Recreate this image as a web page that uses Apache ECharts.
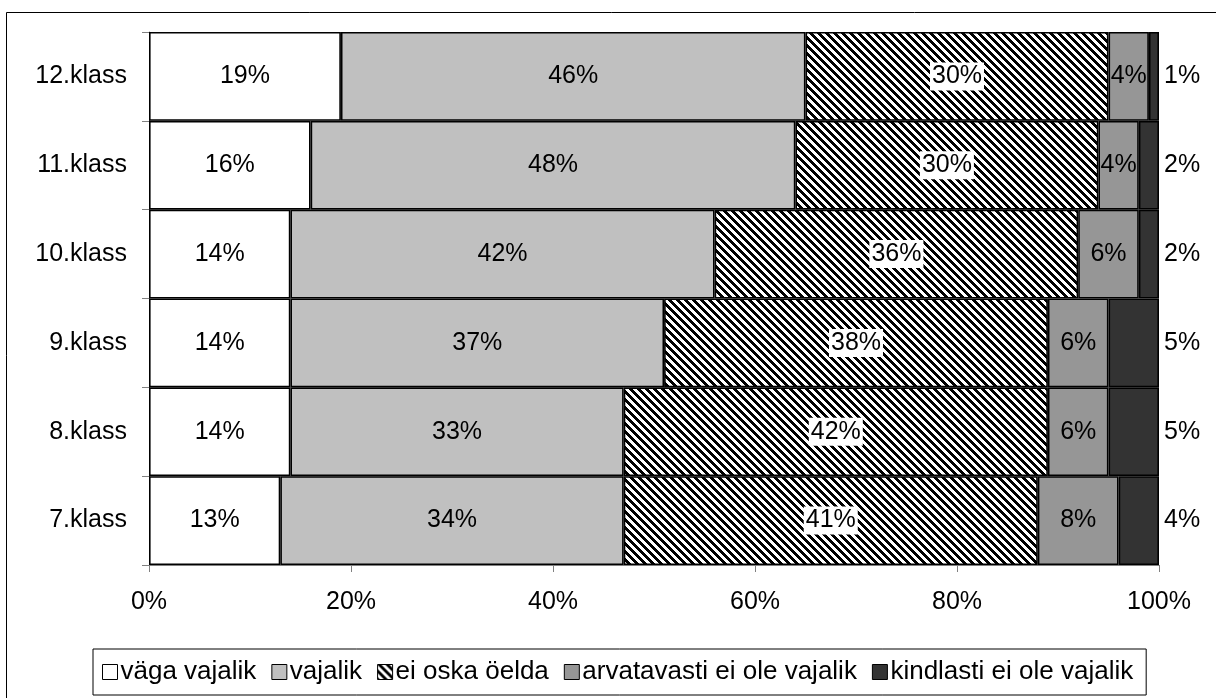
<!DOCTYPE html>
<html>
<head>
<meta charset="utf-8">
<script src="https://cdn.jsdelivr.net/npm/echarts@6/dist/echarts.min.js"></script>
<style>
  html, body { margin: 0; padding: 0; background: #fff; }
  #chart { width: 1216px; height: 698px; }
</style>
</head>
<body>
<div id="chart"></div>
<script>
// Categories listed bottom to top along the vertical axis
const categories = ['7.klass', '8.klass', '9.klass', '10.klass', '11.klass', '12.klass'];
const seriesNames = ['väga vajalik', 'vajalik', 'ei oska öelda', 'arvatavasti ei ole vajalik', 'kindlasti ei ole vajalik'];

// Shares in percent per class (same order as categories)
const vagaVajalik   = [13, 14, 14, 14, 16, 19];
const vajalik       = [34, 33, 37, 42, 48, 46];
const eiOskaOelda   = [41, 42, 38, 36, 30, 30];
const arvatavastiEi = [8, 6, 6, 6, 4, 4];
const kindlastiEi   = [4, 5, 5, 2, 2, 1];

const xTicks = [0, 20, 40, 60, 80, 100];

const FONT = 'Liberation Sans, Arial, sans-serif';

// Diagonal black/white hatch for the "ei oska öelda" segments
function hatchCanvas() {
  const size = 8;
  const c = document.createElement('canvas');
  c.width = size; c.height = size;
  const g = c.getContext('2d');
  g.fillStyle = '#fff';
  g.fillRect(0, 0, size, size);
  g.fillStyle = '#000';
  for (let y = 0; y < size; y++) {
    for (let x = 0; x < size; x++) {
      if ((((x - y) % size) + size) % size < 4) g.fillRect(x, y, 1, 1);
    }
  }
  return c;
}

const fills = ['#ffffff', '#c0c0c0', { image: hatchCanvas(), repeat: 'repeat' }, '#969696', '#333333'];
const seriesData = [vagaVajalik, vajalik, eiOskaOelda, arvatavastiEi, kindlastiEi];

const series = seriesData.map((values, i) => ({
  name: seriesNames[i],
  type: 'bar',
  stack: 'total',
  barCategoryGap: '0%',
  data: values,
  itemStyle: { color: fills[i], borderColor: '#000', borderWidth: 1.6 },
  label: {
    show: true,
    position: i === 4 ? 'right' : 'inside',
    distance: 5,
    formatter: '{c}%',
    fontFamily: FONT,
    fontSize: 25,
    color: '#000',
    backgroundColor: i === 2 ? '#fff' : 'transparent',
    padding: i === 2 ? [2, 2, 1, 2] : 0
  },
  emphasis: { disabled: true }
}));

const chart = echarts.init(document.getElementById('chart'), null, { renderer: 'canvas' });
chart.setOption({
  animation: false,
  backgroundColor: '#fff',
  textStyle: { fontFamily: FONT },
  grid: { left: 149, right: 57, top: 32, bottom: 133, containLabel: false },
  xAxis: {
    type: 'value',
    min: xTicks[0],
    max: xTicks[xTicks.length - 1],
    interval: xTicks[1] - xTicks[0],
    axisLine: { show: true, lineStyle: { color: '#808080', width: 1 } },
    axisTick: { show: true, length: 7, lineStyle: { color: '#808080' } },
    splitLine: { show: false },
    axisLabel: { formatter: '{value}%', fontSize: 25, color: '#000', margin: 25, fontFamily: FONT }
  },
  yAxis: {
    type: 'category',
    data: categories,
    axisLine: { show: true, lineStyle: { color: '#808080', width: 1 } },
    axisTick: { show: true, length: 7, lineStyle: { color: '#808080' } },
    axisLabel: { fontSize: 25, color: '#000', margin: 22, fontFamily: FONT }
  },
  legend: {
    data: seriesNames,
    left: 93,
    top: 649,
    orient: 'horizontal',
    padding: [10, 13, 10, 9],
    itemWidth: 15,
    itemHeight: 15,
    itemGap: 15,
    icon: 'rect',
    borderColor: '#000',
    borderWidth: 1,
    itemStyle: { borderColor: '#000', borderWidth: 1 },
    textStyle: { fontSize: 26, color: '#000', fontFamily: FONT, padding: [0, 0, 0, -2] },
    selectedMode: false
  },
  graphic: [{
    type: 'rect',
    silent: true,
    shape: { x: 6.5, y: 12.5, width: 1400, height: 1000 },
    style: { fill: 'none', stroke: '#000', lineWidth: 1 }
  }],
  series: series
});
</script>
</body>
</html>
